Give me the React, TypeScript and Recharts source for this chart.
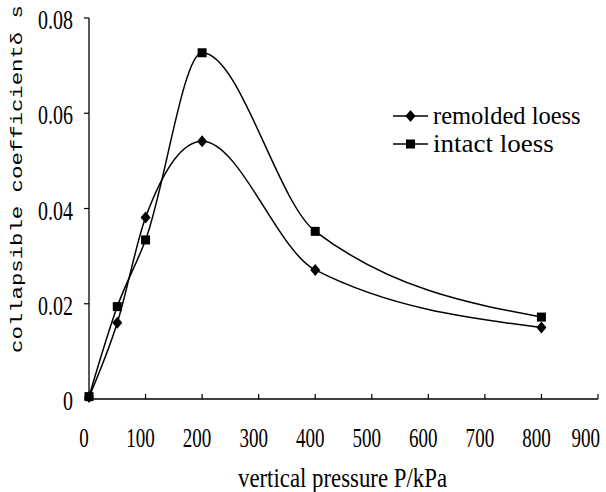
import React from 'react';
import { LineChart, Line, XAxis, YAxis, Legend, Label } from 'recharts';

// vertical pressure (kPa)
const pressure = [0, 50, 100, 200, 400, 800];
// collapsible coefficient
const remoldedLoess = [0.0004, 0.016, 0.0381, 0.0541, 0.0271, 0.015];
const intactLoess = [0.0005, 0.0194, 0.0334, 0.0727, 0.0352, 0.0172];

const xTicks = [0, 100, 200, 300, 400, 500, 600, 700, 800, 900];
const yTicks = [0, 0.02, 0.04, 0.06, 0.08];

const data = pressure.map((p, i) => ({ p, remolded: remoldedLoess[i], intact: intactLoess[i] }));

const SERIF = '"Liberation Serif", serif';
const MONO = '"Liberation Mono", monospace';

const Diamond = ({ cx, cy }: { cx: number; cy: number }) => (
  <polygon points={`${cx},${cy - 6} ${cx + 5},${cy} ${cx},${cy + 6} ${cx - 5},${cy}`} fill="#000" />
);

const Square = ({ cx, cy }: { cx: number; cy: number }) => (
  <rect x={cx - 4.5} y={cy - 4.5} width={9} height={9} fill="#000" />
);

// narrow, tall serif text like the original's font
const Narrow = ({ x, y, anchor, size, sx, children }: any) => (
  <g transform={`translate(${x},${y}) scale(${sx},1)`}>
    <text x={0} y={0} textAnchor={anchor} fontFamily={SERIF} fontSize={size} fill="#000">{children}</text>
  </g>
);

const XTick = (props: any) => {
  const { x, y, payload } = props;
  const label = String(payload.value);
  const w = label.length * 9.5;
  // keep the last label inside the picture
  const cx = Math.min(x - 5, 600 - w / 2);
  return (
    <g>
      <line x1={x} y1={y} x2={x} y2={y - 5} stroke="#000" strokeWidth={1.2} />
      <Narrow x={cx} y={y + 48} anchor="middle" size={28} sx={0.68}>{label}</Narrow>
    </g>
  );
};

const YTick = (props: any) => {
  const { x, y, payload } = props;
  const label = payload.value === 0 ? '0' : payload.value.toFixed(2);
  return (
    <g>
      <line x1={x - 5} y1={y} x2={x} y2={y} stroke="#000" strokeWidth={1.2} />
      <Narrow x={x - 16} y={y + 11} anchor="end" size={27} sx={0.74}>{label}</Narrow>
    </g>
  );
};

const LegendBox = () => (
  <svg width={230} height={64}>
    <line x1={8} y1={18} x2={43} y2={18} stroke="#000" strokeWidth={1.5} />
    <Diamond cx={25.5} cy={18} />
    <Narrow x={48} y={26} anchor="start" size={25} sx={0.98}>remolded loess</Narrow>
    <line x1={8} y1={46} x2={43} y2={46} stroke="#000" strokeWidth={1.5} />
    <Square cx={25.5} cy={46} />
    <Narrow x={48} y={54} anchor="start" size={25} sx={1.08}>intact loess</Narrow>
  </svg>
);

export default function App() {
  return (
    <div style={{ position: 'absolute', left: 0, top: 0, background: '#fff' }}>
      <LineChart width={606} height={492} data={data} margin={{ top: 18, right: 8, left: 0, bottom: 0 }}>
        <XAxis
          type="number"
          dataKey="p"
          domain={[0, 900]}
          ticks={xTicks}
          interval={0}
          tickSize={0}
          tickMargin={0}
          tick={<XTick />}
          tickLine={false}
          axisLine={{ stroke: '#000', strokeWidth: 1.3 }}
          height={93}
        >
          <Label
            content={() => (
              <text x={238} y={487} fontFamily={SERIF} fontSize={28} fill="#000"
                textLength={209} lengthAdjust="spacingAndGlyphs">vertical pressure P/kPa</text>
            )}
          />
        </XAxis>
        <YAxis
          type="number"
          domain={[0, 0.08]}
          ticks={yTicks}
          interval={0}
          tickSize={0}
          tickMargin={0}
          tick={<YTick />}
          tickLine={false}
          axisLine={{ stroke: '#000', strokeWidth: 1.3 }}
          width={89}
        >
          <Label
            content={() => (
              <text x={22} y={179} transform="rotate(-90 22 179)" textAnchor="middle" fontFamily={MONO}
                fontSize={17} fill="#000" textLength={348} lengthAdjust="spacingAndGlyphs">
                collapsible coefficientδ s
              </text>
            )}
          />
        </YAxis>
        <Legend
          layout="vertical"
          align="center"
          verticalAlign="middle"
          content={() => <LegendBox />}
          wrapperStyle={{ left: 385, top: 98, width: 230, height: 64 }}
        />
        <Line
          type="monotone"
          dataKey="remolded"
          stroke="#000"
          strokeWidth={1.5}
          isAnimationActive={false}
          dot={(props: any) => <Diamond key={`r-${props.index}`} cx={props.cx} cy={props.cy} />}
        />
        <Line
          type="monotone"
          dataKey="intact"
          stroke="#000"
          strokeWidth={1.5}
          isAnimationActive={false}
          dot={(props: any) => <Square key={`i-${props.index}`} cx={props.cx} cy={props.cy} />}
        />
      </LineChart>
    </div>
  );
}
